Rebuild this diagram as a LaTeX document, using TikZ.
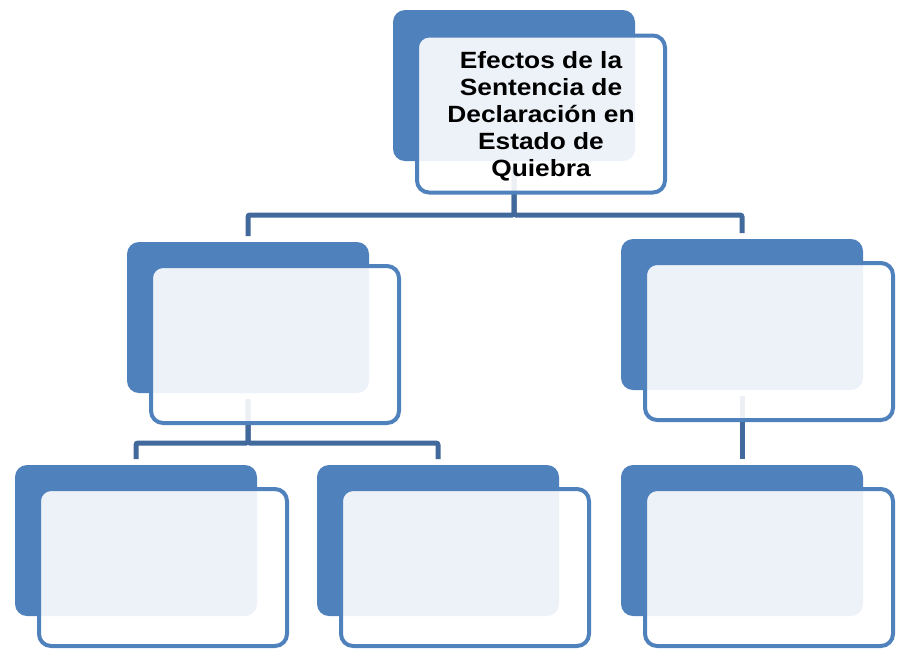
\documentclass[tikz,border=0pt]{standalone}
\usepackage{fontspec}
\newfontfamily\boxfont[FakeStretch=1.12]{Liberation Sans}
\usetikzlibrary{positioning}
\definecolor{smartblue}{RGB}{79,129,189}
\definecolor{linkblue}{RGB}{65,105,156}
\tikzset{
  backbox/.style={fill=smartblue, rounded corners=12pt, minimum width=242pt,
    minimum height=151pt, inner sep=0pt, outer sep=0pt, anchor=north west},
  frontbox/.style={draw=smartblue, line width=4pt, fill=white, fill opacity=0.9,
    text opacity=1, rounded corners=12pt, minimum width=248pt, minimum height=157pt,
    inner sep=0pt, outer sep=0pt, below right=24pt and 24pt of #1.north west},
  link/.style={draw=linkblue, line width=5pt, rounded corners=2pt,
    shorten <=6pt, shorten >=6pt}
}

\begin{document}
\begin{tikzpicture}[x=1pt,y=-1pt]
    \useasboundingbox (0,0) rectangle (898,649);
    % back boxes
    \node[backbox] (topb) at (393,10) {};
    \node[backbox] (leftb) at (127,242) {};
    \node[backbox] (rightb) at (621,239) {};
    \node[backbox] (blb) at (15,465) {};
    \node[backbox] (bmb) at (317,465) {};
    \node[backbox] (brb) at (621,465) {};
    % connectors
    \draw[link] (topb.south) -- (topb.south |- 0,215) -| (leftb.north);
    \draw[link] (topb.south) -- (topb.south |- 0,215) -| (rightb.north);
    \draw[link] (leftb.south) -- (leftb.south |- 0,443) -| (blb.north);
    \draw[link] (leftb.south) -- (leftb.south |- 0,443) -| (bmb.north);
    \draw[link] (rightb.south) -- (brb.north);
    % front boxes
    \node[frontbox=topb, align=center, text depth=0pt, yshift=-1.5pt,
          font=\boxfont\bfseries\fontsize{23.5}{27.2}\selectfont] (top)
          {Efectos de la\\Sentencia de\\Declaración en\\Estado de\\Quiebra};
    \node[frontbox=leftb] (left) {};
    \node[frontbox=rightb] (right) {};
    \node[frontbox=blb] (bl) {};
    \node[frontbox=bmb] (bm) {};
    \node[frontbox=brb] (br) {};
\end{tikzpicture}
\end{document}
